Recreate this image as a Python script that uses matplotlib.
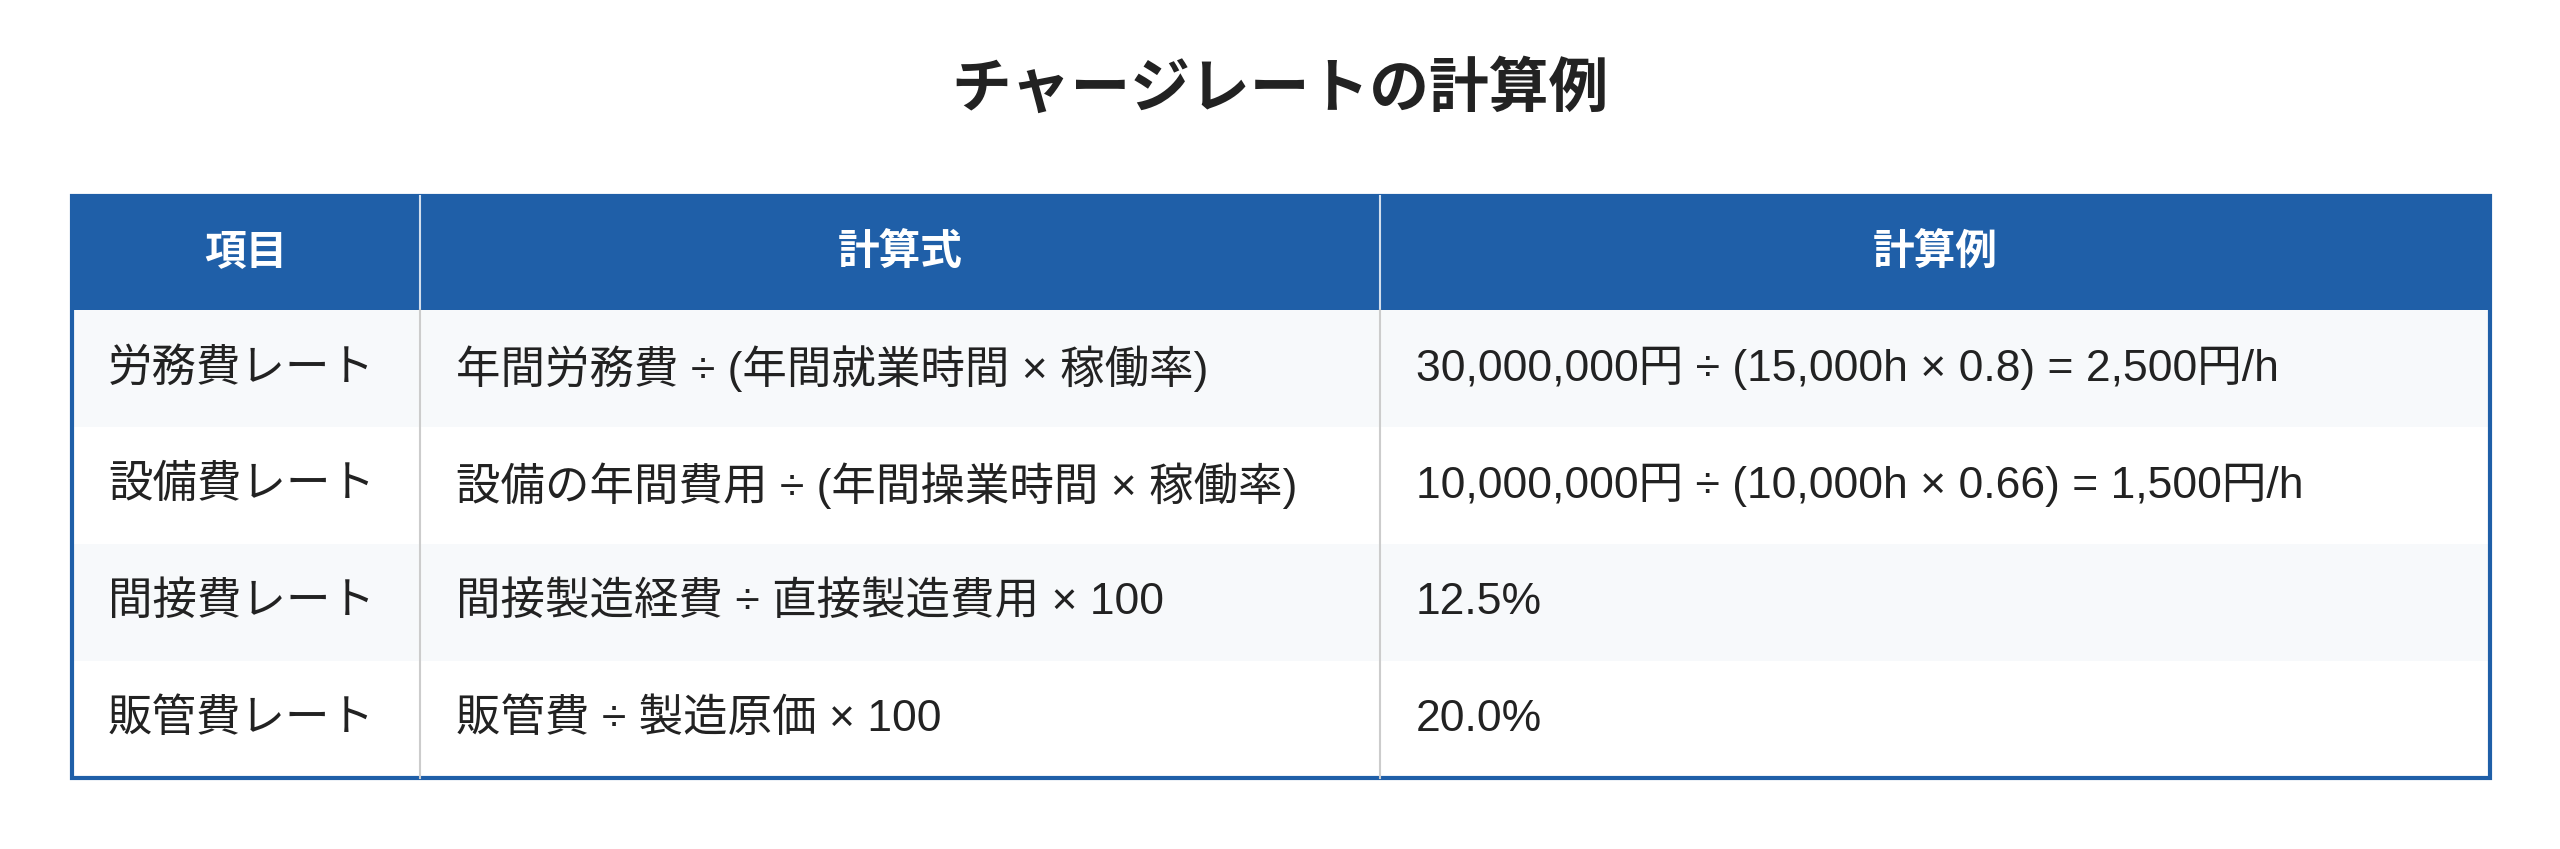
import matplotlib
matplotlib.use('Agg')
import matplotlib.pyplot as plt
from matplotlib.patches import Rectangle

plt.rcParams['font.family'] = ['Liberation Sans', 'Noto Sans CJK JP', 'DejaVu Sans']

title = 'チャージレートの計算例'
headers = ['項目', '計算式', '計算例']
items = ['労務費レート', '設備費レート', '間接費レート', '販管費レート']
formulas = ['年間労務費 ÷ (年間就業時間 × 稼働率)',
            '設備の年間費用 ÷ (年間操業時間 × 稼働率)',
            '間接製造経費 ÷ 直接製造費用 × 100',
            '販管費 ÷ 製造原価 × 100']
examples = ['30,000,000円 ÷ (15,000h × 0.8) = 2,500円/h',
            '10,000,000円 ÷ (10,000h × 0.66) = 1,500円/h',
            '12.5%',
            '20.0%']

blue = '#1f5fa8'
col_x = [72, 420, 1380, 2490]
top, head_h, row_h = 196, 114, 117

fig = plt.figure(figsize=(25.6, 8.49), dpi=100)
ax = fig.add_axes([0, 0, 1, 1])
ax.set_xlim(0, 2560)
ax.set_ylim(849, 0)
ax.axis('off')

ax.text(1280, 90, title, ha='center', va='center', fontsize=43, fontweight='bold', color='#222222')

# header
ax.add_patch(Rectangle((col_x[0], top), col_x[-1] - col_x[0], head_h, color=blue, lw=0))
for i, h in enumerate(headers):
    ax.text((col_x[i] + col_x[i + 1]) / 2, top + head_h / 2, h, ha='center', va='center',
            fontsize=30, fontweight='bold', color='white')
    if i > 0:
        ax.plot([col_x[i]] * 2, [top, top + head_h], color='#ffffff', lw=1.5, alpha=0.8)

# body
for r, row in enumerate(zip(items, formulas, examples)):
    y0 = top + head_h + r * row_h
    fc = '#f7f9fb' if r % 2 == 0 else 'white'
    ax.add_patch(Rectangle((col_x[0], y0), col_x[-1] - col_x[0], row_h, color=fc, lw=0))
    for c, txt in enumerate(row):
        ax.text(col_x[c] + 36, y0 + row_h / 2, txt, ha='left', va='center',
                fontsize=32, color='#222222')

bottom = top + head_h + len(items) * row_h
for x in col_x[1:-1]:
    ax.plot([x, x], [top + head_h, bottom], color='#cccccc', lw=1.5)
ax.add_patch(Rectangle((col_x[0], top), col_x[-1] - col_x[0], bottom - top,
                       fill=False, ec=blue, lw=3))

fig.savefig('out.png', dpi=100)
